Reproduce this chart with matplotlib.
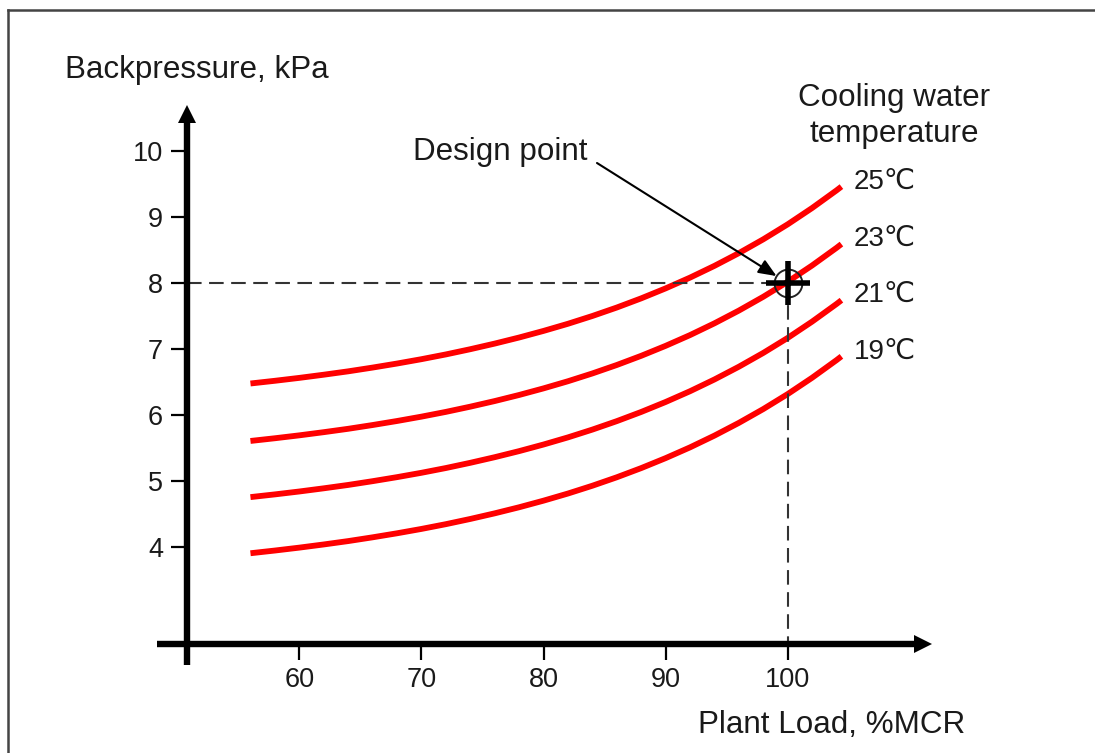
import matplotlib.pyplot as plt
from matplotlib.lines import Line2D

# ── Data ────────────────────────────────────────────────────────────────────
plant_load = [56, 58, 60, 62, 64, 66, 68, 70, 72, 74, 76, 78, 80, 82, 84,
              86, 88, 90, 92, 94, 96, 98, 100, 102, 104, 104.4]
temps = [25, 23, 21, 19]
bp_25 = [6.480, 6.521, 6.565, 6.613, 6.664, 6.721, 6.782, 6.848, 6.920,
         6.999, 7.084, 7.176, 7.276, 7.384, 7.502, 7.630, 7.769, 7.920,
         8.083, 8.261, 8.454, 8.663, 8.890, 9.137, 9.404, 9.461]
bp_23 = [5.610, 5.651, 5.695, 5.743, 5.794, 5.851, 5.912, 5.978, 6.050,
         6.129, 6.214, 6.306, 6.406, 6.514, 6.632, 6.760, 6.899, 7.050,
         7.213, 7.391, 7.584, 7.793, 8.020, 8.267, 8.534, 8.591]
bp_21 = [4.760, 4.801, 4.845, 4.893, 4.944, 5.001, 5.062, 5.128, 5.200,
         5.279, 5.364, 5.456, 5.556, 5.664, 5.782, 5.910, 6.049, 6.200,
         6.363, 6.541, 6.734, 6.943, 7.170, 7.417, 7.684, 7.741]
bp_19 = [3.910, 3.951, 3.995, 4.043, 4.094, 4.151, 4.212, 4.278, 4.350,
         4.429, 4.514, 4.606, 4.706, 4.814, 4.932, 5.060, 5.199, 5.350,
         5.513, 5.691, 5.884, 6.093, 6.320, 6.567, 6.834, 6.891]
curves = [bp_25, bp_23, bp_21, bp_19]

design_load = 100
design_bp = 8

x_ticks = [60, 70, 80, 90, 100]
y_ticks = [4, 5, 6, 7, 8, 9, 10]

# ── Figure / pixel helpers ─────────────────────────────────────────────────
W, H, DPI = 1095, 753, 100
fig = plt.figure(figsize=(W / DPI, H / DPI), dpi=DPI)
ax = fig.add_axes([0, 0, 1, 1])

# 60 %MCR sits at px 299.3, 12.21 px per %; 4 kPa at py 547.3, 66.05 px per kPa
def px2x(px):
    return 60 + (px - 299.3) / 12.21

def py2y(py):
    return 4 + (547.3 - py) / 66.05

ax.set_xlim(px2x(0), px2x(W))
ax.set_ylim(py2y(H), py2y(0))

FONT = ['Liberation Sans', 'DejaVu Sans']
plt.rcParams['font.family'] = FONT
TXT = '#1a1a1a'

# ── Axes lines with arrow heads ────────────────────────────────────────────
x_axis_y = py2y(643.7)
y_axis_x = px2x(187.3)

for s in ['top', 'right']:
    ax.spines[s].set_visible(False)
ax.spines['left'].set_position(('data', y_axis_x))
ax.spines['bottom'].set_position(('data', x_axis_y))
ax.spines['left'].set_bounds(py2y(665), py2y(121))
ax.spines['bottom'].set_bounds(px2x(157), px2x(915))
for s in ['left', 'bottom']:
    ax.spines[s].set_linewidth(4.6)
    ax.spines[s].set_capstyle('butt')
    ax.spines[s].set_color('black')

ax.plot([y_axis_x], [py2y(113.5)], marker='^', ms=13.5, color='black',
        mew=0, clip_on=False)
ax.plot([px2x(923)], [x_axis_y], marker='>', ms=13.5, color='black',
        mew=0, clip_on=False)

ax.set_xticks(x_ticks)
ax.set_yticks(y_ticks)
ax.tick_params(axis='both', direction='out', length=11.5, width=1.6,
               colors='black', labelcolor=TXT, labelsize=19.5)
ax.tick_params(axis='y', pad=6)
ax.tick_params(axis='x', pad=5.5)

# ── Curves ──────────────────────────────────────────────────────────────────
for t, bp in zip(temps, curves):
    ax.plot(plant_load, bp, color='#ff0000', lw=4.2, solid_capstyle='butt',
            solid_joinstyle='round')
    ax.annotate(f"{t}\u2103", xy=(plant_load[-1], bp[-1]),
                xytext=(9, -1.5), textcoords='offset points',
                ha='left', va='baseline', fontsize=20, color=TXT,
                family=FONT)

# ── Design point ────────────────────────────────────────────────────────────
ax.plot([y_axis_x, design_load], [design_bp, design_bp], color='#333333',
        lw=1.5, dashes=(7, 3.6))
ax.plot([design_load, design_load], [design_bp, x_axis_y], color='#333333',
        lw=1.5, dashes=(7, 3.6))
ax.plot([design_load], [design_bp], marker='o', ms=20, mfc='none',
        mec='#222222', mew=1.4, zorder=5)
ax.plot([design_load], [design_bp], marker='+', ms=31, mew=4.0,
        color='black', zorder=6)

ax.text(px2x(500), py2y(160), "Design point", ha='center', va='baseline',
        fontsize=22.6, color=TXT)
ax.annotate('', xy=(design_load, design_bp),
            xytext=(px2x(597), py2y(163)),
            arrowprops=dict(arrowstyle='-|>,head_length=0.6,head_width=0.25',
                            color='black', lw=1.5, shrinkA=0, shrinkB=9.5,
                            mutation_scale=18))

# ── Labels ──────────────────────────────────────────────────────────────────
ax.text(px2x(65), py2y(78), "Backpressure, kPa", ha='left', va='baseline',
        fontsize=22.6, color=TXT)
ax.text(px2x(698), py2y(733), "Plant Load, %MCR", ha='left', va='baseline',
        fontsize=22.6, color=TXT)
ax.text(px2x(894), py2y(106), "Cooling water", ha='center', va='baseline',
        fontsize=22.6, color=TXT)
ax.text(px2x(894), py2y(141.5), "temperature", ha='center', va='baseline',
        fontsize=22.6, color=TXT)

# ── Frame ───────────────────────────────────────────────────────────────────
fig.add_artist(Line2D([8 / W, 8 / W], [0, 1 - 9.5 / H], color='#444444',
                      lw=1.8, transform=fig.transFigure))
fig.add_artist(Line2D([8 / W, 1], [1 - 9.5 / H, 1 - 9.5 / H],
                      color='#444444', lw=1.8, transform=fig.transFigure))

fig.savefig('out.png', dpi=DPI)
